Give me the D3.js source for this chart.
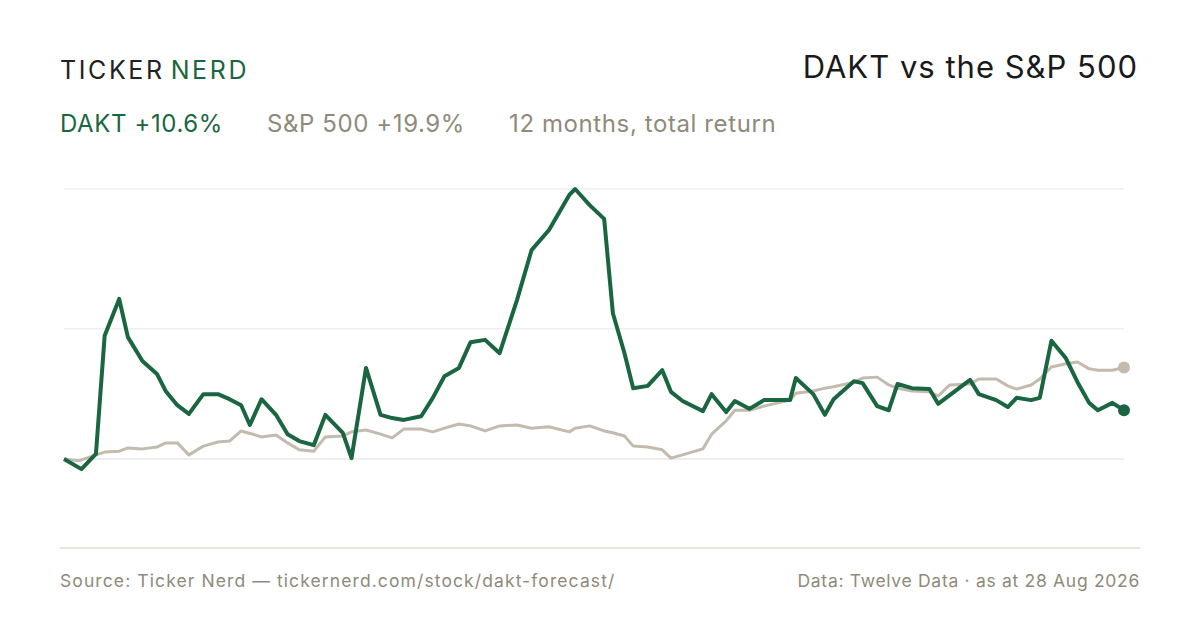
<!DOCTYPE html>
<html><head><meta charset="utf-8">
<script src="https://cdn.jsdelivr.net/npm/d3@7"></script>
<style>
body{margin:0;background:#fff;}
text{font-family:Inter,"Noto Sans",sans-serif;}
</style></head>
<body><svg id="c" width="1200" height="630"></svg>
<script>
// days since start of window, cumulative total return (%)
var daktDays = [0,6,11,14,19,22,27,32,35,39,43,48,53,57,61,64,68,73,77,81,86,90,96,99,104,109,113,117,123,127,131,136,140,145,150,156,161,167,174,176,181,186,189,193,196,201,206,209,213,220,223,228,231,236,241,250,252,258,262,265,272,275,280,284,287,292,298,301,305,312,315,321,325,328,333,336,340,345,349,353,356,361,365];
var daktVals = [0,-2.2,1.1,26.8,34.8,26.5,21.3,18.5,14.8,11.7,9.8,14.1,14.1,13.0,11.7,7.4,13.0,9.6,5.4,3.9,3.0,9.6,5.7,0.2,19.8,9.6,8.9,8.5,9.3,13.3,18.0,19.8,25.4,25.9,23.0,34.6,45.4,49.8,57.4,58.7,55.2,52.2,31.7,23.0,15.4,15.9,19.3,14.6,12.6,10.4,14.1,10.2,12.6,10.9,12.8,12.8,17.6,14.1,9.6,13.0,16.9,16.5,11.5,10.6,16.3,15.4,15.2,12.0,13.9,17.2,14.1,12.8,11.3,13.3,12.8,13.3,25.7,21.9,16.7,12.2,10.6,12.2,10.6];
var spDays = [0,5,11,14,19,22,27,32,35,39,43,48,53,57,61,66,68,73,77,81,86,90,96,99,104,109,113,117,123,127,131,136,140,145,150,156,161,167,174,176,181,186,189,193,196,201,206,209,213,220,223,228,231,236,241,250,252,258,262,265,272,275,280,284,287,292,298,301,305,312,315,321,325,328,333,336,340,345,349,353,356,361,365];
var spVals = [0,-0.4,0.9,1.5,1.7,2.4,2.2,2.6,3.5,3.5,0.9,2.8,3.7,3.9,6.1,5.2,4.8,5.2,3.5,2.0,1.7,4.8,5.0,5.9,6.3,5.4,4.6,6.5,6.5,5.9,6.7,7.6,7.2,6.1,7.2,7.4,6.7,7.0,5.9,6.7,7.2,6.1,5.7,5.0,2.8,2.6,2.0,0.2,0.9,2.2,5.4,8.3,10.6,10.6,11.5,12.8,14.3,14.8,15.4,15.7,16.7,17.6,17.8,16.1,15.4,14.8,14.6,13.7,16.1,16.3,17.4,17.4,15.9,15.2,16.1,17.4,20.0,20.7,21.1,19.6,19.3,19.3,19.9];
var gridVals = [0, 28.3, 58.7];
var legend = [["DAKT +10.6%","#1a6640"],["S&P 500 +19.9%","#8f8a7a"],["12 months, total return","#8f8a7a"]];

var svg = d3.select("#c");
var x = d3.scaleLinear().domain([0,365]).range([64,1124]);
var y = d3.scaleLinear().domain([0,58.7]).range([459,189]);

svg.append("text").attr("x",60).attr("y",79).attr("font-size",25).attr("letter-spacing",2.6).attr("fill","#222")
  .text("TICKER").append("tspan").attr("dx",6).attr("fill","#1a6640").text("NERD");
svg.append("text").attr("x",1138).attr("y",78).attr("text-anchor","end").attr("font-size",31).attr("letter-spacing",1).attr("fill","#1a1a1a").text("DAKT vs the S&P 500");

var lx = 60;
legend.forEach(function(l){
  var t = svg.append("text").attr("x",lx).attr("y",132).attr("font-size",24).attr("letter-spacing",0.6).attr("fill",l[1]).text(l[0]);
  lx += t.node().getComputedTextLength() + 44;
});

svg.selectAll(".g").data(gridVals.slice(1)).enter().append("line")
  .attr("x1",64).attr("x2",1124).attr("y1",d=>y(d)).attr("y2",d=>y(d)).attr("stroke","#e6e6e6");
svg.append("line").attr("x1",64).attr("x2",1124).attr("y1",y(0)).attr("y2",y(0)).attr("stroke","#dcdcdc");
svg.append("line").attr("x1",60).attr("x2",1140).attr("y1",548).attr("y2",548).attr("stroke","#cfccc0");

var line = d3.line().x(d=>x(d[0])).y(d=>y(d[1]));
var sp = d3.zip(spDays, spVals), dk = d3.zip(daktDays, daktVals);
svg.append("path").datum(sp).attr("d",line).attr("fill","none").attr("stroke","#c2bbae").attr("stroke-width",3).attr("stroke-linejoin","round");
svg.append("path").datum(dk).attr("d",line).attr("fill","none").attr("stroke","#1a6640").attr("stroke-width",4).attr("stroke-linejoin","round");
svg.append("circle").attr("cx",x(365)).attr("cy",y(spVals[spVals.length-1])).attr("r",6).attr("fill","#c2bbae");
svg.append("circle").attr("cx",x(365)).attr("cy",y(daktVals[daktVals.length-1])).attr("r",6).attr("fill","#1a6640");

svg.append("text").attr("x",60).attr("y",587).attr("font-size",17.5).attr("letter-spacing",1.1).attr("fill","#8f8a7a").text("Source: Ticker Nerd — tickernerd.com/stock/dakt-forecast/");
svg.append("text").attr("x",1140).attr("y",587).attr("text-anchor","end").attr("font-size",17.5).attr("letter-spacing",0.7).attr("fill","#8f8a7a").text("Data: Twelve Data · as at 28 Aug 2026");
</script></body></html>
